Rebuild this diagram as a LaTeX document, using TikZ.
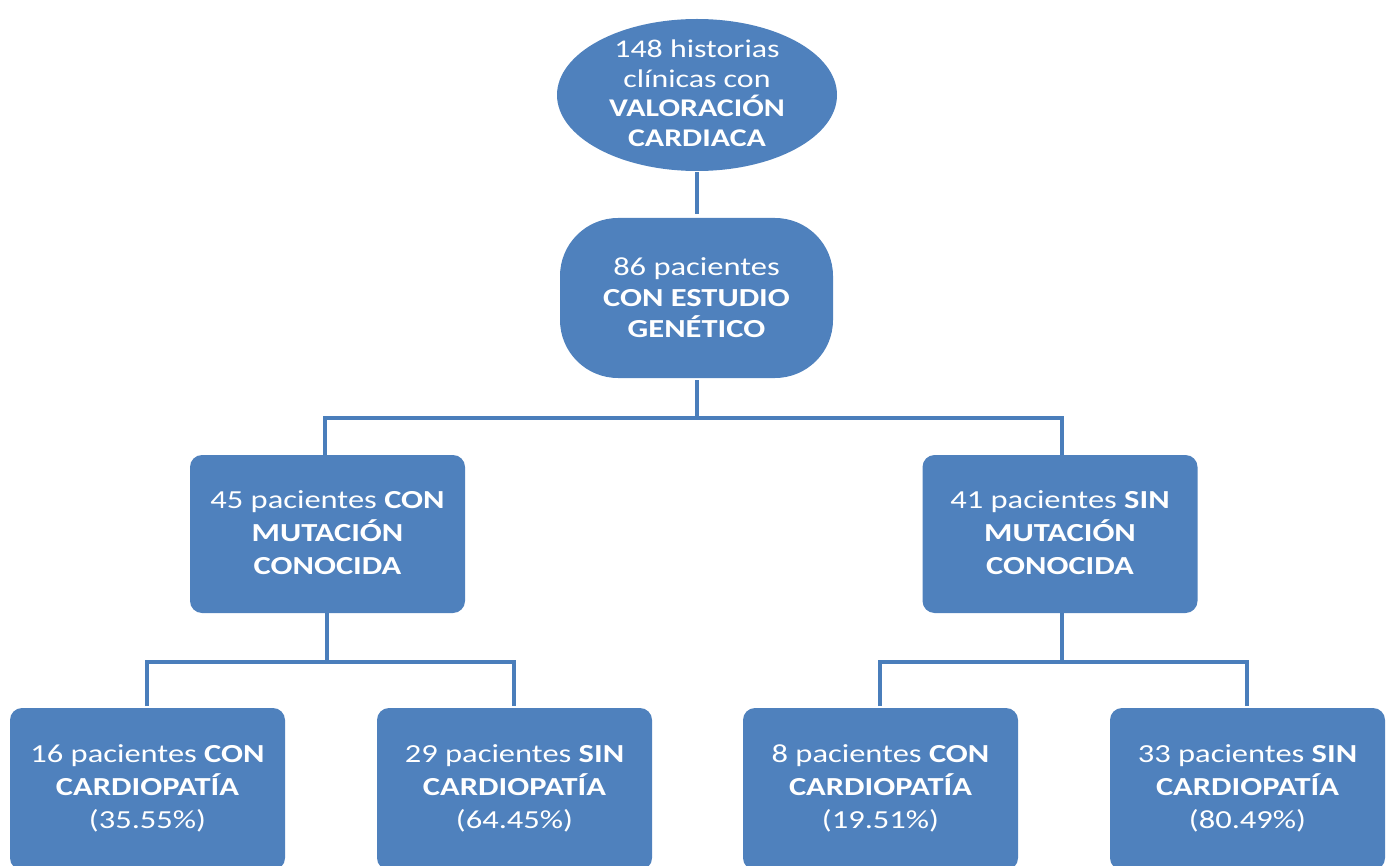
\documentclass[tikz,border=0pt]{standalone}
\usepackage{fontspec}
\setmainfont[FakeStretch=1.25]{Carlito}
\usetikzlibrary{shapes.geometric}
\definecolor{boxblue}{HTML}{4F81BD}
\definecolor{lineblue}{HTML}{4A7EBB}
\tikzset{
  x=1pt, y=-1pt,
  box/.style={fill=boxblue, rounded corners=12pt, minimum width=275pt, minimum height=158pt, inner sep=0pt},
  txt/.style={text=white, align=center, font=\fontsize{26}{33}\selectfont},
  conn/.style={draw=lineblue, line width=4pt},
}
\begin{document}
\begin{tikzpicture}
\useasboundingbox (0,0) rectangle (1389,866);
\clip (0,0) rectangle (1389,866);
% top ellipse
\node[ellipse, fill=boxblue, minimum width=280pt, minimum height=152pt, inner sep=0pt] (top) at (697,95) {};
\node[txt, font=\fontsize{25.5}{29.5}\selectfont] (toptxt) at (697,93) {148 historias\\clínicas con\\\textbf{VALORACIÓN}\\\textbf{CARDIACA}};
% second
\node[fill=boxblue, rounded corners=58pt, minimum width=273pt, minimum height=160pt, inner sep=0pt] (mid) at (696.5,298) {};
\node[txt, font=\fontsize{26}{31}\selectfont] (midtxt) at (696.5,298) {86 pacientes\\\textbf{CON ESTUDIO}\\\textbf{GENÉTICO}};
% level 2
\node[box] (L) at (327.5,534) {};
\node[txt] (Ltxt) at (327.5,533) {45 pacientes \textbf{CON}\\\textbf{MUTACIÓN}\\\textbf{CONOCIDA}};
\node[box] (R) at (1060,534) {};
\node[txt] (Rtxt) at (1060,533) {41 pacientes \textbf{SIN}\\\textbf{MUTACIÓN}\\\textbf{CONOCIDA}};
% level 3
\node[box, minimum height=162pt] (LL) at (147.5,789) {};
\node[txt] (LLtxt) at (147.5,788) {16 pacientes \textbf{CON}\\\textbf{CARDIOPATÍA}\\(35.55\%)};
\node[box, minimum height=162pt] (LR) at (514.5,789) {};
\node[txt] (LRtxt) at (514.5,788) {29 pacientes \textbf{SIN}\\\textbf{CARDIOPATÍA}\\(64.45\%)};
\node[box, minimum height=162pt] (RL) at (880.5,789) {};
\node[txt] (RLtxt) at (880.5,788) {8 pacientes \textbf{CON}\\\textbf{CARDIOPATÍA}\\(19.51\%)};
\node[box, minimum height=162pt] (RR) at (1247.5,789) {};
\node[txt] (RRtxt) at (1247.5,788) {33 pacientes \textbf{SIN}\\\textbf{CARDIOPATÍA}\\(80.49\%)};
% junctions
\coordinate (j1) at (697,418);
\coordinate (j2) at (327,662);
\coordinate (j3) at (1062,662);
% connectors
\draw[conn] (697,172) -- (697,214);
\draw[conn] (697,380) -- (j1);
\draw[conn] (325,455) |- (j1) -| (1062,455);
\draw[conn] (327,613) -- (j2);
\draw[conn] (147,706) |- (j2) -| (514,706);
\draw[conn] (1062,613) -- (j3);
\draw[conn] (880,706) |- (j3) -| (1247,706);
\end{tikzpicture}
\end{document}
